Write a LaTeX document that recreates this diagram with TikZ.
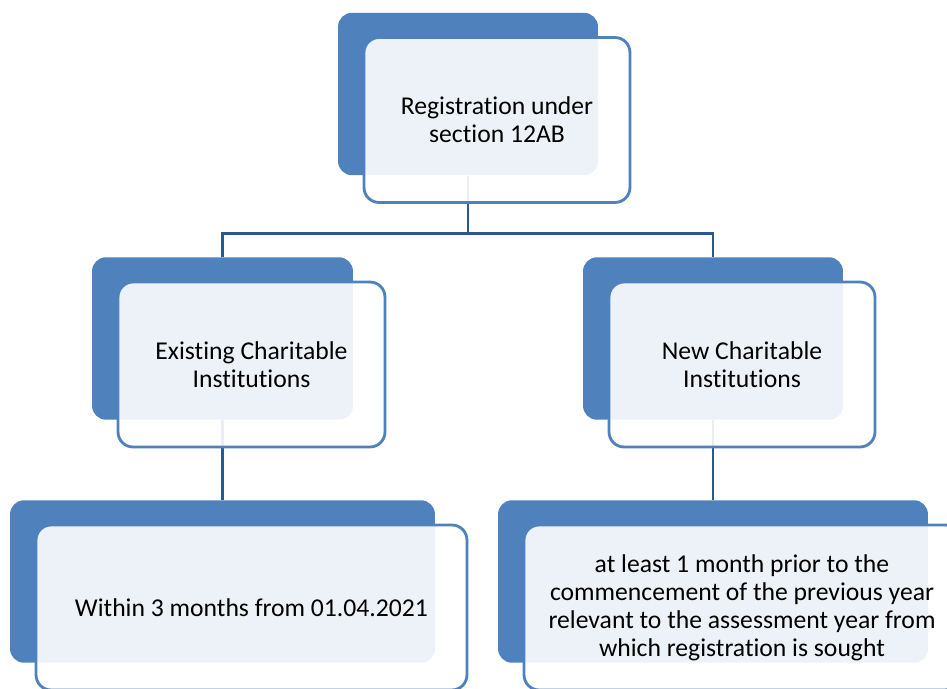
\documentclass[tikz,border=0pt]{standalone}
\usepackage{fontspec}
\setmainfont{Carlito}[Ligatures=NoCommon]
\usepackage{xcolor}
\definecolor{boxblue}{RGB}{79,129,189}
\definecolor{edgeblue}{RGB}{79,129,189}
\definecolor{linkblue}{RGB}{41,89,148}

\begin{document}
\begin{tikzpicture}[x=0.02cm, y=-0.02cm,
    backbox/.style={fill=boxblue, draw=none, rounded corners=0.28cm, minimum height=3.25cm},
    frontbox/.style={fill=white, fill opacity=0.9, text opacity=1, draw=edgeblue, line width=1.6pt,
        rounded corners=0.3cm, minimum height=3.3cm, align=center,
        font=\fontsize{14.6}{16}\selectfont},
    link/.style={draw=linkblue, line width=1.6pt}]
    \useasboundingbox (0,0) rectangle (947,689);
    \clip (0,0) rectangle (947,689);

    % Back boxes
    \foreach \name/\x/\y/\w in {reg/468/94/5.2, old/222.5/338.5/5.22, new/713/338.5/5.2,
                                 oldtime/222.5/581.5/8.5, newtime/713/581.5/8.6} {
        \node[backbox, minimum width=\w cm] (\name) at (\x,\y) {};
    }

    % Connectors
    \draw[link] (reg.south) -- ++(0,58) -| (old.north);
    \draw[link] (reg.south) -- ++(0,58) -| (new.north);
    \draw[link] (old.south) -- (oldtime.north);
    \draw[link] (new.south) -- (newtime.north);

    % Front boxes
    \foreach \name/\w/\txt in {reg/5.32/{Registration under\\section 12AB},
                                old/5.34/{Existing Charitable\\Institutions},
                                new/5.32/{New Charitable\\Institutions},
                                oldtime/8.62/{Within 3 months from 01.04.2021},
                                newtime/8.72/{at least 1 month prior to the\\commencement of the previous year\\relevant to the assessment year from\\which registration is sought}} {
        \node[frontbox, minimum width=\w cm] (\name-front) at ([shift={(29,26)}]\name) {\txt};
    }
\end{tikzpicture}
\end{document}
